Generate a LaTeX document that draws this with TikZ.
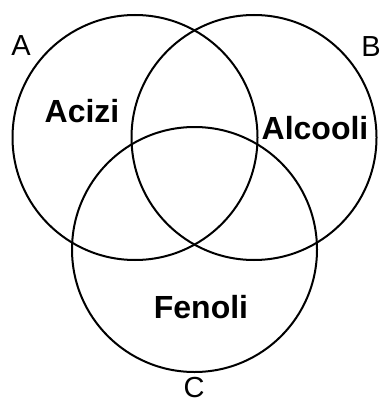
\documentclass[tikz,border=0pt]{standalone}
\usepackage{fontspec}
\setmainfont{Liberation Sans}
\begin{document}
\begin{tikzpicture}[x=1pt,y=-1pt,
  setc/.style={draw=black,line width=2pt,circle,minimum size=245pt,inner sep=0pt},
  region/.style={font=\fontsize{32}{32}\selectfont\bfseries,inner sep=0pt},
  setlabel/.style={font=\fontsize{29}{29}\selectfont,inner sep=0pt}]
\useasboundingbox (0,0) rectangle (380,401);
\node[setc] (ca) at (135,137.5) {};
\node[setc] (cb) at (254,137.5) {};
\node[setc] (cc) at (194.5,249.5) {};
\node[region] (acizi) at (82,111) {Acizi};
\node[region] (alcooli) at (315,128) {Alcooli};
\node[region] (fenoli) at (201,307) {Fenoli};
\node[setlabel] (la) at (21,46) {A};
\node[setlabel] (lb) at (371,47) {B};
\node[setlabel] (lc) at (194,388) {C};
\end{tikzpicture}
\end{document}
